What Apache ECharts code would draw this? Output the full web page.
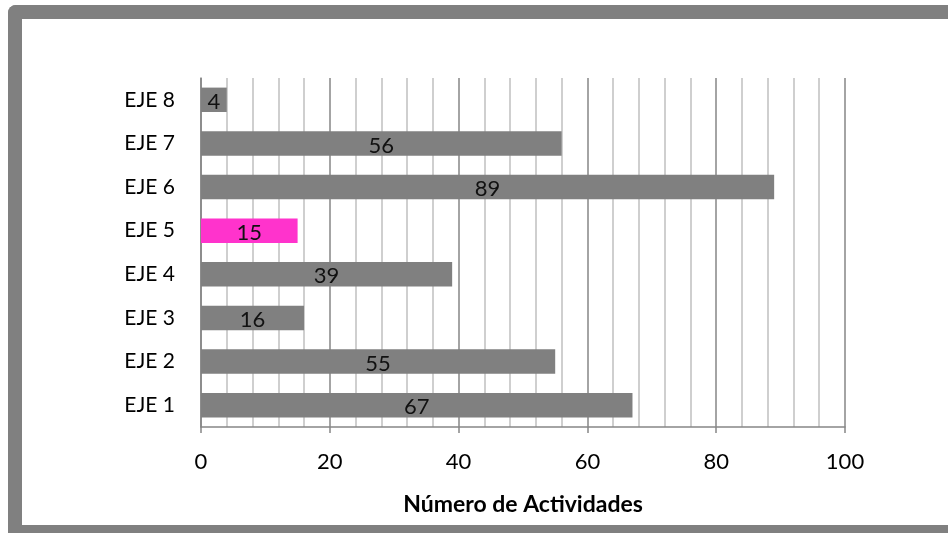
<!DOCTYPE html>
<html>
<head>
<meta charset="utf-8">
<script src="https://cdn.jsdelivr.net/npm/echarts@6/dist/echarts.min.js"></script>
<style>
  html, body { margin: 0; padding: 0; background: #fff; overflow: hidden; }
  .frame {
    position: absolute; left: 8px; top: 5px; width: 1000px; height: 506px;
    border: 14px solid #808080; border-right: none; border-radius: 8px 0 0 0;
  }
  #chart { position: absolute; left: 0; top: 0; width: 948px; height: 533px; }
</style>
</head>
<body>
<div class="frame"></div>
<div id="chart"></div>
<script>
// datos del grafico
var categories = ["EJE 1", "EJE 2", "EJE 3", "EJE 4", "EJE 5", "EJE 6", "EJE 7", "EJE 8"];
var values = [67, 55, 16, 39, 15, 89, 56, 4];
var highlight = "EJE 5";
var axisTitle = "Número de Actividades";

var font = "Lato, 'Liberation Sans', sans-serif";
var chart = echarts.init(document.getElementById("chart"));

var option = {
  animation: false,
  grid: { left: 201, right: 103, top: 78, bottom: 106, containLabel: false },
  xAxis: {
    type: "value",
    min: 0,
    max: 100,
    interval: 20,
    name: axisTitle,
    nameLocation: "middle",
    nameGap: 66,
    nameTextStyle: { fontFamily: font, fontSize: 23, fontWeight: "bold", color: "#000" },
    axisLine: { show: true, lineStyle: { color: "#868686", width: 1.5 } },
    axisTick: { show: true, length: 6, lineStyle: { color: "#868686", width: 1.5 } },
    axisLabel: { margin: 24, fontFamily: font, fontSize: 22, color: "#000" },
    splitLine: { show: true, lineStyle: { color: "#868686", width: 1.5 } },
    minorTick: { show: false, splitNumber: 5 },
    minorSplitLine: { show: true, lineStyle: { color: "#c0c0c0", width: 1.5 } }
  },
  yAxis: {
    type: "category",
    data: categories,
    axisLine: { show: true, lineStyle: { color: "#868686", width: 1.5 } },
    axisTick: { show: false },
    axisLabel: { margin: 26, fontFamily: font, fontSize: 21, color: "#000" },
    splitLine: { show: false }
  },
  series: [
    {
      type: "bar",
      barCategoryGap: "44%",
      data: values.map(function (v, i) {
        return {
          value: v,
          itemStyle: { color: categories[i] === highlight ? "#ff33cc" : "#808080" }
        };
      }),
      label: {
        show: true,
        position: "inside",
        offset: [0, 2],
        fontFamily: font,
        fontSize: 22,
        color: "#111"
      }
    }
  ]
};

chart.setOption(option);
</script>
</body>
</html>
